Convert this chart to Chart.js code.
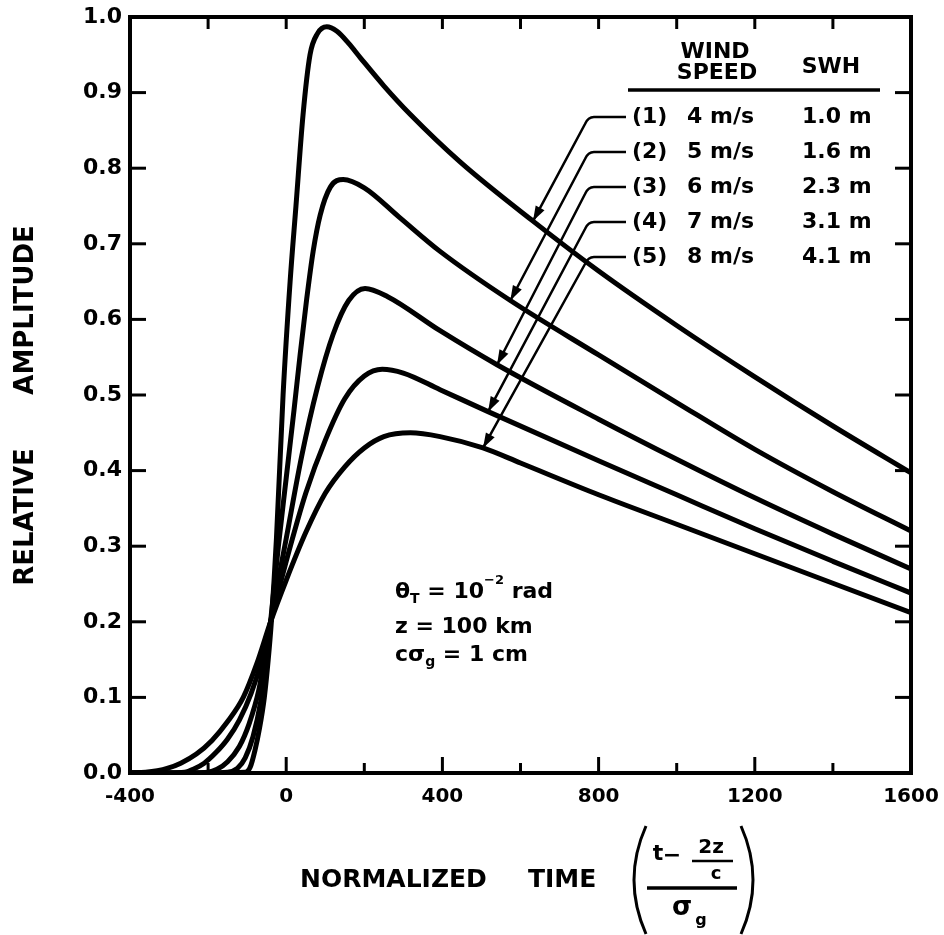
<!DOCTYPE html>
<html>
<head>
<meta charset="utf-8">
<script src="https://cdn.jsdelivr.net/npm/chart.js@4.4.1/dist/chart.umd.min.js"></script>
<style>
  html, body { margin: 0; padding: 0; background: #fff; }
  #wrap { width: 944px; height: 935px; }
</style>
</head>
<body>
<div id="wrap"><canvas id="myChart" width="944" height="935"></canvas></div>
<script>
const FONT = "'DejaVu Sans', sans-serif";

// curve (1) 4 m/s
const time1 = [-400, -200, -105, -92, -80, -68, -56, -46, -38, -25, -8, 10, 25, 43, 61, 80, 104, 130, 160, 190, 250, 318, 446, 632, 800, 1000, 1200, 1400, 1600];
const amp1 = [0, 0, 0.001, 0.008, 0.03, 0.06, 0.1, 0.15, 0.2, 0.31, 0.5, 0.65, 0.75, 0.87, 0.95, 0.978, 0.987, 0.981, 0.965, 0.946, 0.909, 0.871, 0.808, 0.73, 0.664, 0.592, 0.524, 0.459, 0.397];
// curve (2) 5 m/s
const time2 = [-400, -200, -150, -125, -105, -85, -65, -50, -40, -20, 0, 20, 36, 52, 69, 87, 113, 146, 200, 290, 394, 574, 800, 1000, 1200, 1400, 1600];
const amp2 = [0, 0, 0.001, 0.006, 0.02, 0.048, 0.095, 0.15, 0.2, 0.3, 0.39, 0.48, 0.555, 0.625, 0.69, 0.738, 0.775, 0.785, 0.774, 0.735, 0.69, 0.625, 0.553, 0.49, 0.428, 0.372, 0.32];
// curve (3) 6 m/s
const time3 = [-400, -250, -200, -177, -150, -120, -95, -70, -40, 0, 40, 80, 120, 160, 202, 260, 394, 540, 800, 1000, 1200, 1400, 1600];
const amp3 = [0, 0, 0.001, 0.005, 0.015, 0.035, 0.065, 0.11, 0.2, 0.31, 0.42, 0.51, 0.58, 0.625, 0.641, 0.63, 0.585, 0.54, 0.468, 0.415, 0.364, 0.316, 0.27];
// curve (4) 7 m/s
const time4 = [-400, -300, -260, -238, -210, -180, -150, -120, -90, -65, -40, 0, 50, 100, 150, 200, 246, 300, 394, 517, 800, 1000, 1200, 1400, 1600];
const amp4 = [0, 0, 0.001, 0.005, 0.013, 0.027, 0.045, 0.07, 0.105, 0.145, 0.2, 0.28, 0.37, 0.44, 0.495, 0.525, 0.534, 0.529, 0.507, 0.478, 0.413, 0.368, 0.323, 0.28, 0.238];
// curve (5) 8 m/s
const time5 = [-400, -360, -330, -305, -270, -230, -190, -150, -110, -75, -40, 0, 50, 100, 150, 200, 250, 318, 394, 504, 600, 800, 1000, 1200, 1400, 1600];
const amp5 = [0, 0.001, 0.003, 0.006, 0.013, 0.025, 0.043, 0.068, 0.1, 0.145, 0.2, 0.255, 0.318, 0.37, 0.405, 0.43, 0.445, 0.45, 0.445, 0.43, 0.41, 0.368, 0.329, 0.29, 0.251, 0.212];

const curveLabels = ['(1)', '(2)', '(3)', '(4)', '(5)'];
const windSpeeds = ['4 m/s', '5 m/s', '6 m/s', '7 m/s', '8 m/s'];
const swhValues = ['1.0 m', '1.6 m', '2.3 m', '3.1 m', '4.1 m'];
// where each leader arrow touches its curve
const arrowTime = [632, 574, 540, 517, 504];
const arrowAmp = [0.73, 0.625, 0.54, 0.478, 0.43];

const times = [time1, time2, time3, time4, time5];
const amps = [amp1, amp2, amp3, amp4, amp5];

function bold(size) { return 'bold ' + size + 'px ' + FONT; }

function textRuns(ctx, x, y, parts) {
  parts.forEach(function (p) {
    ctx.font = bold(p[1]);
    ctx.fillText(p[0], x, y + p[2]);
    x += ctx.measureText(p[0]).width;
  });
}

function seg(ctx, x0, y0, x1, y1) {
  ctx.beginPath(); ctx.moveTo(x0, y0); ctx.lineTo(x1, y1); ctx.stroke();
}

const decor = {
  id: 'decor',
  afterDraw(chart) {
    const ctx = chart.ctx, a = chart.chartArea;
    const x = chart.scales.x, y = chart.scales.y;
    ctx.save();
    ctx.strokeStyle = '#000';
    ctx.fillStyle = '#000';
    ctx.lineCap = 'butt';

    // frame
    ctx.lineWidth = 4;
    ctx.strokeRect(a.left, a.top, a.right - a.left, a.bottom - a.top);

    // inward ticks
    ctx.lineWidth = 3;
    for (let t = -200; t < 1600; t += 200) {
      const px = x.getPixelForValue(t);
      seg(ctx, px, a.bottom, px, a.bottom - (t % 400 === 0 ? 16 : 10));
      seg(ctx, px, a.top, px, a.top + 12);
    }
    for (let k = 1; k < 10; k++) {
      const py = y.getPixelForValue(k / 10);
      seg(ctx, a.left, py, a.left + 16, py);
      seg(ctx, a.right, py, a.right - 16, py);
    }

    // legend table
    ctx.textBaseline = 'middle';
    ctx.textAlign = 'center';
    ctx.font = bold(22);
    ctx.fillText('WIND', 715, a.top + 35);
    ctx.fillText('SPEED', 717, a.top + 56);
    ctx.fillText('SWH', 831, a.top + 50);
    ctx.lineWidth = 3.5;
    seg(ctx, 628, a.top + 73, 880, a.top + 73);
    ctx.textAlign = 'left';
    for (let i = 0; i < 5; i++) {
      const ry = a.top + 100 + i * 35;
      ctx.font = bold(22);
      ctx.fillText(curveLabels[i], 632, ry);
      ctx.fillText(windSpeeds[i], 687, ry);
      ctx.fillText(swhValues[i], 802, ry);

      // leader arrow
      const tx = x.getPixelForValue(arrowTime[i]);
      const ty = y.getPixelForValue(arrowAmp[i]);
      ctx.lineWidth = 2.5;
      ctx.beginPath();
      ctx.moveTo(626, ry);
      ctx.lineTo(594, ry);
      ctx.quadraticCurveTo(588, ry, 585, ry + 7);
      ctx.lineTo(tx, ty);
      ctx.stroke();
      const ang = Math.atan2(ty - (ry + 7), tx - 585);
      ctx.beginPath();
      ctx.moveTo(tx, ty);
      ctx.lineTo(tx - 15 * Math.cos(ang) + 5 * Math.sin(ang), ty - 15 * Math.sin(ang) - 5 * Math.cos(ang));
      ctx.lineTo(tx - 15 * Math.cos(ang) - 5 * Math.sin(ang), ty - 15 * Math.sin(ang) + 5 * Math.cos(ang));
      ctx.closePath();
      ctx.fill();
    }

    // parameter block
    textRuns(ctx, 395, 592, [['θ', 22, 0], ['T', 14, 7], [' = 10', 22, 0], ['−2', 13, -11], [' rad', 22, 0]]);
    textRuns(ctx, 395, 627, [['z = 100 km', 22, 0]]);
    textRuns(ctx, 395, 655, [['cσ', 22, 0], ['g', 14, 7], [' = 1 cm', 22, 0]]);

    // y axis title
    ctx.save();
    ctx.translate(26, 0);
    ctx.rotate(-Math.PI / 2);
    ctx.textAlign = 'center';
    ctx.font = bold(26);
    ctx.fillText('RELATIVE', -517, 0);
    ctx.fillText('AMPLITUDE', -310, 0);
    ctx.restore();

    // x axis title with fraction
    ctx.textAlign = 'left';
    ctx.font = bold(25);
    ctx.fillText('NORMALIZED', 300, 880);
    ctx.fillText('TIME', 528, 880);
    ctx.lineWidth = 3;
    ctx.beginPath();
    ctx.moveTo(646, 826); ctx.quadraticCurveTo(622, 880, 646, 934); ctx.stroke();
    ctx.beginPath();
    ctx.moveTo(741, 826); ctx.quadraticCurveTo(765, 880, 741, 934); ctx.stroke();
    ctx.textAlign = 'center';
    ctx.font = bold(22);
    ctx.fillText('t', 658, 854);
    ctx.fillText('−', 672, 856);
    ctx.font = bold(20);
    ctx.fillText('2z', 711, 848);
    ctx.lineWidth = 2.5;
    seg(ctx, 692, 861, 733, 861);
    ctx.font = bold(18);
    ctx.fillText('c', 716, 874);
    ctx.lineWidth = 3.5;
    seg(ctx, 647, 888, 737, 888);
    ctx.font = bold(26);
    ctx.fillText('σ', 682, 908);
    ctx.font = bold(16);
    ctx.fillText('g', 701, 921);

    ctx.restore();
  }
};

const datasets = times.map(function (ts, i) {
  return {
    label: windSpeeds[i],
    data: ts.map(function (t, j) { return { x: t, y: amps[i][j] }; }),
    borderColor: '#000',
    borderWidth: 5,
    pointRadius: 0,
    fill: false,
    cubicInterpolationMode: 'monotone'
  };
});

const config = {
  type: 'line',
  data: { datasets: datasets },
  options: {
    responsive: false,
    animation: false,
    layout: { padding: { top: 17, right: 33, left: 0, bottom: 0 } },
    plugins: { legend: { display: false }, tooltip: { enabled: false } },
    scales: {
      x: {
        type: 'linear',
        min: -400,
        max: 1600,
        afterFit: function (s) { s.height = 162; s.paddingLeft = 0; s.paddingRight = 0; },
        grid: { display: false, drawTicks: false },
        border: { display: false },
        ticks: {
          stepSize: 400, padding: 12, maxRotation: 0, color: '#000',
          font: { family: FONT, size: 20, weight: 'bold' },
          callback: function (v) { return String(v); }
        }
      },
      y: {
        min: 0,
        max: 1,
        afterFit: function (s) { s.width = 130; s.paddingTop = 0; s.paddingBottom = 0; },
        grid: { display: false, drawTicks: false },
        border: { display: false },
        ticks: {
          stepSize: 0.1, padding: 8, color: '#000',
          font: { family: FONT, size: 22, weight: 'bold' },
          callback: function (v) { return v.toFixed(1); }
        }
      }
    }
  },
  plugins: [decor]
};

var ctx = document.getElementById('myChart').getContext('2d');
grafica = new Chart(ctx, config);
</script>
</body>
</html>
